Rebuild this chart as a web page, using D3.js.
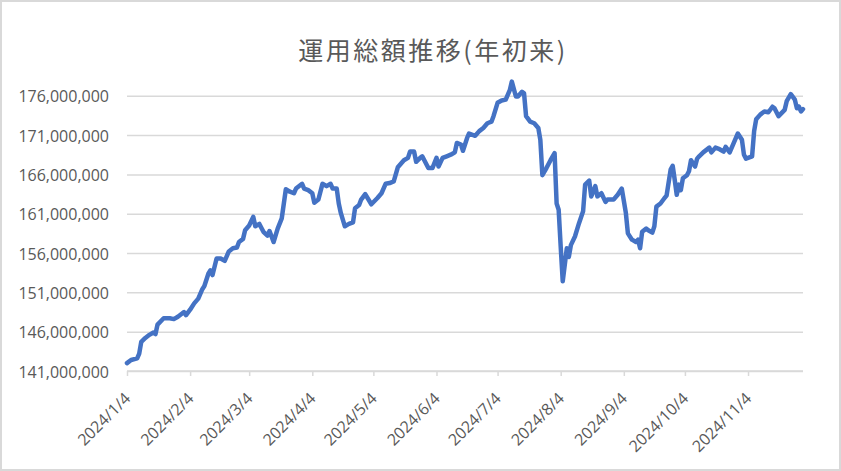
<!DOCTYPE html>
<html>
<head>
<meta charset="utf-8">
<script src="https://cdn.jsdelivr.net/npm/d3@7"></script>
<style>
  html, body { margin: 0; padding: 0; background: #fff; }
  svg { display: block; }
</style>
</head>
<body>
<svg id="chart" width="841" height="471"></svg>
<script>
const title = "運用総額推移(年初来)";

const dates = [
  "2024/1/4","2024/1/6","2024/1/9","2024/1/10","2024/1/11","2024/1/13","2024/1/15","2024/1/17","2024/1/18","2024/1/19",
  "2024/1/22","2024/1/25","2024/1/27","2024/1/29","2024/2/1","2024/2/2","2024/2/4","2024/2/6","2024/2/8","2024/2/10",
  "2024/2/11","2024/2/13","2024/2/14","2024/2/15","2024/2/17","2024/2/19","2024/2/21","2024/2/23","2024/2/25","2024/2/27",
  "2024/2/28","2024/3/1","2024/3/2","2024/3/4","2024/3/6","2024/3/7","2024/3/9","2024/3/11","2024/3/13","2024/3/14",
  "2024/3/16","2024/3/18","2024/3/20","2024/3/22","2024/3/24","2024/3/26","2024/3/27","2024/3/30","2024/3/31","2024/4/2",
  "2024/4/4","2024/4/5","2024/4/7","2024/4/9","2024/4/11","2024/4/13","2024/4/14","2024/4/16","2024/4/17","2024/4/18",
  "2024/4/20","2024/4/22","2024/4/24","2024/4/25","2024/4/27","2024/4/28","2024/4/30","2024/5/3","2024/5/6","2024/5/8",
  "2024/5/10","2024/5/12","2024/5/14","2024/5/16","2024/5/19","2024/5/21","2024/5/22","2024/5/24","2024/5/25","2024/5/27",
  "2024/5/28","2024/5/31","2024/6/2","2024/6/4","2024/6/5","2024/6/7","2024/6/9","2024/6/11","2024/6/13","2024/6/14",
  "2024/6/16","2024/6/17","2024/6/19","2024/6/20","2024/6/23","2024/6/25","2024/6/27","2024/6/29","2024/7/1","2024/7/2",
  "2024/7/4","2024/7/6","2024/7/8","2024/7/10","2024/7/11","2024/7/13","2024/7/14","2024/7/16","2024/7/17","2024/7/18",
  "2024/7/20","2024/7/22","2024/7/24","2024/7/25","2024/7/26","2024/7/28","2024/7/30","2024/8/1","2024/8/2","2024/8/3",
  "2024/8/4","2024/8/5","2024/8/7","2024/8/8","2024/8/9","2024/8/11","2024/8/13","2024/8/15","2024/8/16","2024/8/18",
  "2024/8/19","2024/8/21","2024/8/22","2024/8/24","2024/8/26","2024/8/27","2024/8/30","2024/9/1","2024/9/3","2024/9/5",
  "2024/9/6","2024/9/8","2024/9/10","2024/9/11","2024/9/12","2024/9/13","2024/9/15","2024/9/16","2024/9/18","2024/9/19",
  "2024/9/20","2024/9/22","2024/9/24","2024/9/25","2024/9/27","2024/9/28","2024/9/29","2024/9/30","2024/10/1","2024/10/2",
  "2024/10/3","2024/10/5","2024/10/6","2024/10/7","2024/10/9","2024/10/10","2024/10/11","2024/10/13","2024/10/16","2024/10/17",
  "2024/10/19","2024/10/21","2024/10/23","2024/10/24","2024/10/26","2024/10/28","2024/10/30","2024/11/1","2024/11/2","2024/11/3",
  "2024/11/5","2024/11/6","2024/11/7","2024/11/8","2024/11/10","2024/11/12","2024/11/14","2024/11/16","2024/11/17","2024/11/19",
  "2024/11/22","2024/11/23","2024/11/25","2024/11/27","2024/11/28","2024/11/29","2024/11/30","2024/12/1"
];

const values = [
  142000000,142400000,142600000,143200000,144700000,145200000,145600000,145900000,145700000,146900000,
  147700000,147700000,147600000,147900000,148500000,148100000,148800000,149600000,150200000,151400000,
  151800000,153400000,153800000,153200000,155300000,155300000,155000000,156200000,156600000,156700000,
  157400000,157800000,158900000,159500000,160600000,159400000,159700000,158700000,158200000,158800000,
  157400000,159100000,160400000,164100000,163800000,163600000,164200000,164800000,164200000,164000000,
  163600000,162400000,162800000,164800000,164500000,164800000,164200000,164200000,162300000,161100000,
  159400000,159700000,159900000,161700000,162100000,162800000,163500000,162200000,163000000,163600000,
  164800000,164900000,165100000,166900000,167800000,168100000,168900000,168900000,167600000,168100000,
  168300000,166800000,166800000,168100000,167000000,168100000,168300000,168500000,168800000,170000000,
  169800000,169000000,170600000,171200000,170900000,171500000,171900000,172500000,172700000,173400000,
  175100000,175400000,175500000,176700000,177800000,175900000,175900000,176500000,176300000,173400000,
  172700000,172500000,171900000,170400000,165900000,166800000,167800000,168700000,162300000,161500000,
  156800000,152400000,156600000,155500000,157000000,158100000,159800000,161300000,164700000,165200000,
  163200000,164500000,163200000,163600000,162500000,162800000,162800000,163400000,164200000,161100000,
  158500000,157700000,157400000,157700000,156600000,158700000,159100000,158900000,158600000,159400000,
  161900000,162300000,163000000,163300000,166600000,167100000,165300000,163400000,164700000,164000000,
  165500000,165900000,166400000,167800000,167000000,168000000,168300000,168800000,169400000,168800000,
  169400000,169200000,168900000,169500000,168800000,170000000,171200000,170400000,168500000,168000000,
  168200000,168300000,171500000,173000000,173600000,174000000,173900000,174600000,174400000,173400000,
  174200000,175300000,176200000,175500000,174400000,174600000,174000000,174300000
];

const yTicks = [141000000,146000000,151000000,156000000,161000000,166000000,171000000,176000000];
const xTickLabels = ["2024/1/4","2024/2/4","2024/3/4","2024/4/4","2024/5/4","2024/6/4","2024/7/4","2024/8/4","2024/9/4","2024/10/4","2024/11/4"];
const xDomain = ["2024/1/4","2024/12/1"];
const yDomain = [141000000, 178000000];

(function () {
const parse = d3.timeParse("%Y/%m/%d");
const fmtDate = d3.timeFormat("%Y/%-m/%-d");
const data = dates.map((d, i) => ({ date: parse(d), value: values[i] }));

const W = 841, H = 471;
const plotLeft = 127, plotRight = 803, plotTop = 80, plotBottom = 371;
const textColor = "#595959";
const gridColor = "#d9d9d9";

const svg = d3.select("#chart");

svg.append("rect").attr("x", 1).attr("y", 1).attr("width", W - 2).attr("height", H - 2)
  .attr("fill", "#fff").attr("stroke", gridColor).attr("stroke-width", 2);

const x = d3.scaleTime().domain(xDomain.map(parse)).range([plotLeft, plotRight]);
const y = d3.scaleLinear().domain(yDomain).range([plotBottom, plotTop]);

// title
svg.append("text")
  .attr("x", 433).attr("y", 60)
  .attr("text-anchor", "middle")
  .attr("font-family", "'Noto Sans CJK JP', sans-serif")
  .attr("font-size", 25)
  .attr("letter-spacing", "2.5px")
  .attr("fill", textColor)
  .text(title);

// y axis (gridlines + labels)
const yAxis = d3.axisLeft(y).tickValues(yTicks).tickSize(-(plotRight - plotLeft)).tickPadding(18)
  .tickFormat(d3.format(","));
const gy = svg.append("g").attr("transform", `translate(${plotLeft},0)`).call(yAxis);
gy.select(".domain").remove();
gy.selectAll(".tick line").attr("stroke", gridColor).attr("stroke-width", 1.5);
gy.selectAll(".tick text")
  .attr("font-family", "'Open Sans', sans-serif")
  .attr("font-size", 16)
  .attr("fill", textColor)
  .attr("dy", null)
  .attr("y", 0)
  .attr("dominant-baseline", "central");

// x axis
const xAxis = d3.axisBottom(x).tickValues(xTickLabels.map(parse)).tickSize(5).tickFormat(fmtDate);
const gx = svg.append("g").attr("transform", `translate(0,${plotBottom})`).call(xAxis);
gx.select(".domain").attr("stroke", gridColor).attr("stroke-width", 1.5)
  .attr("d", `M${plotLeft},0H${plotRight}`);
gx.selectAll(".tick line").attr("stroke", gridColor).attr("stroke-width", 1.5);
gx.selectAll(".tick text")
  .attr("font-family", "'Open Sans', sans-serif")
  .attr("font-size", 16)
  .attr("fill", textColor)
  .attr("text-anchor", "end")
  .attr("dy", null)
  .attr("y", null)
  .attr("transform", "translate(4,28.5) rotate(-45)");

// line
const line = d3.line().x(d => x(d.date)).y(d => y(d.value));
svg.append("path")
  .datum(data)
  .attr("fill", "none")
  .attr("stroke", "#4472C4")
  .attr("stroke-width", 4.5)
  .attr("stroke-linejoin", "round")
  .attr("stroke-linecap", "round")
  .attr("d", line);
})();
</script>
</body>
</html>
